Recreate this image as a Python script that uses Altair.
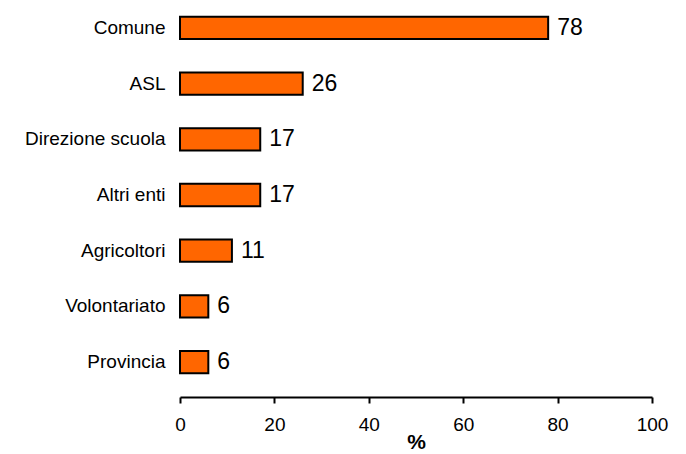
import altair as alt
import pandas as pd

categories = ["Comune", "ASL", "Direzione scuola", "Altri enti", "Agricoltori", "Volontariato", "Provincia"]
values = [78, 26, 17, 17, 11, 6, 6]

df = pd.DataFrame({"cat": categories, "val": values})

FONT = "Liberation Sans"

y_enc = alt.Y("cat:N", sort=categories, title=None,
              scale=alt.Scale(paddingInner=0.6, paddingOuter=0.3),
              axis=alt.Axis(domain=False, ticks=False, labelFontSize=19, labelFont=FONT,
                            labelColor="black", labelPadding=15))
x_enc = alt.X("val:Q", title="%",
              scale=alt.Scale(domain=[0, 100], nice=False),
              axis=alt.Axis(values=[0, 20, 40, 60, 80, 100], grid=False, domainColor="black",
                            domainWidth=2, tickColor="black", tickWidth=2, tickSize=6,
                            labelFlush=False, labelOverlap=False,
                            labelFontSize=19, labelFont=FONT, labelColor="black", labelPadding=12,
                            titleFontSize=21, titleFont=FONT, titleFontWeight="bold",
                            titleColor="black", titleBaseline="alphabetic", titleY=51,
                            offset=7))

bars = alt.Chart(df).mark_bar(color="#FF6600", stroke="black", strokeWidth=2).encode(
    x=x_enc, y=y_enc)

labels = alt.Chart(df).mark_text(align="left", baseline="middle", dx=9, fontSize=23,
                                 font=FONT, color="black").encode(
    x=alt.X("val:Q"), y=alt.Y("cat:N", sort=categories), text=alt.Text("val:Q"))

chart = (bars + labels).properties(
    width=472, height=390,
    background="white",
    autosize=alt.AutoSizeParams(type="none"),
    padding={"left": 180, "top": 0, "right": 34, "bottom": 64},
).configure_view(stroke=None, strokeWidth=0)

chart.save("out.html", embed_options={"renderer": "svg", "actions": False})
